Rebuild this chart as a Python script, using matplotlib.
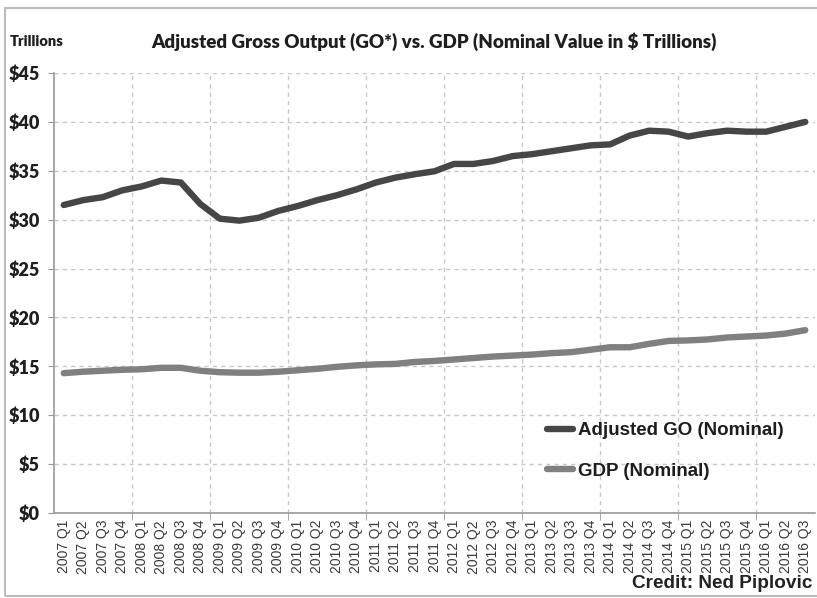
import numpy as np
import matplotlib
matplotlib.use("Agg")
import matplotlib.pyplot as plt
from matplotlib.patches import Rectangle
from matplotlib.ticker import FuncFormatter
from matplotlib.font_manager import FontProperties

# quarters 2007 Q1 .. 2016 Q3
years = [2007, 2008, 2009, 2010, 2011, 2012, 2013, 2014, 2015, 2016]
quarters = [f"{y} Q{q}" for y in years for q in range(1, 5)][:39]

# values ($ trillions)
go_nominal = [31.5, 32.0, 32.3, 33.0, 33.4, 34.0, 33.8, 31.6,
              30.1, 29.9, 30.2, 30.9, 31.4, 32.0, 32.5, 33.1,
              33.8, 34.3, 34.65, 34.95, 35.7, 35.7, 36.0, 36.5,
              36.7, 37.0, 37.3, 37.6, 37.7, 38.6, 39.1, 39.0,
              38.5, 38.85, 39.1, 39.0, 39.0, 39.5, 40.0]
gdp_nominal = [14.3, 14.45, 14.55, 14.65, 14.7, 14.85, 14.85, 14.55,
               14.4, 14.35, 14.35, 14.45, 14.6, 14.75, 14.95, 15.1,
               15.2, 15.25, 15.45, 15.55, 15.7, 15.85, 16.0, 16.1,
               16.2, 16.35, 16.45, 16.7, 16.95, 16.95, 17.3, 17.6,
               17.65, 17.75, 17.95, 18.05, 18.15, 18.35, 18.7]

go_color = "#464646"
gdp_color = "#808080"

fig = plt.figure(figsize=(8.17, 5.98), dpi=100)
ax = fig.add_axes([54 / 817, 1 - 513 / 598, (815 - 54) / 817, (513 - 73) / 598])

x = np.arange(len(quarters))
ax.plot(x, go_nominal, color=go_color, lw=4.6, solid_capstyle="round",
        label="Adjusted GO (Nominal)")
ax.plot(x, gdp_nominal, color=gdp_color, lw=4.6, solid_capstyle="round",
        label="GDP (Nominal)")

ax.set_xlim(-0.5, len(quarters) - 0.5)
ax.set_ylim(0, 45)

# y axis
ax.set_yticks(np.arange(0, 46, 5))
ax.yaxis.set_major_formatter(FuncFormatter(lambda v, p: f"${v:.0f}"))
for lab in ax.get_yticklabels():
    lab.set_fontfamily("Lato")
    lab.set_fontweight("heavy")
    lab.set_fontsize(13)
    lab.set_color("#1e1e1e")
ax.tick_params(axis="y", length=4, color="#999999", pad=6)

# x axis: labels on every quarter, ticks/grid every 4 quarters
ax.set_xticks(x)
ax.set_xticklabels(quarters, rotation=90, fontsize=10, color="#3a3a3a",
                   family="Liberation Sans")
ax.tick_params(axis="x", which="major", length=0, pad=5)
ax.set_xticks(np.arange(3.5, len(quarters) - 0.5, 4), minor=True)
ax.tick_params(axis="x", which="minor", length=5, color="#999999")

ax.grid(axis="y", which="major", ls=(0, (3, 3)), color="#c8c8c8", lw=1)
ax.grid(axis="x", which="minor", ls=(0, (3, 3)), color="#c8c8c8", lw=1)
ax.set_axisbelow(True)

for s in ["top", "right"]:
    ax.spines[s].set_visible(False)
for s in ["left", "bottom"]:
    ax.spines[s].set_color("#999999")
    ax.spines[s].set_linewidth(1.2)

bold_font = FontProperties(family="Liberation Sans", weight="bold", size=13.5)
leg = ax.legend(loc="upper left", bbox_to_anchor=(0.625, 0.245), frameon=False,
                handlelength=1.4, handletextpad=0.3, labelspacing=1.25,
                prop=bold_font)
for t in leg.get_texts():
    t.set_color("#1e1e1e")

fig.text(10 / 817, 1 - 42 / 598, "Trillions", family="Lato", weight="heavy",
         fontsize=10.5, va="center", color="#1e1e1e")
fig.text(434 / 817, 1 - 42 / 598,
         "Adjusted Gross Output (GO*) vs. GDP (Nominal Value in $ Trillions)",
         family="Lato", weight="heavy", fontsize=13.5, ha="center", va="center",
         color="#1e1e1e")
fig.text(812 / 817, 1 - 583 / 598, "Credit: Ned Piplovic", family="Liberation Sans",
         weight="bold", fontsize=13.7, ha="right", va="center", color="#222222")

# outer frame of the picture
fig.patches.append(Rectangle((5 / 817, 2 / 598), 1.0, 1 - 10 / 598,
                             transform=fig.transFigure, fill=False,
                             edgecolor="#bbbbbb", lw=1.5))

fig.savefig("out.png", dpi=100)
